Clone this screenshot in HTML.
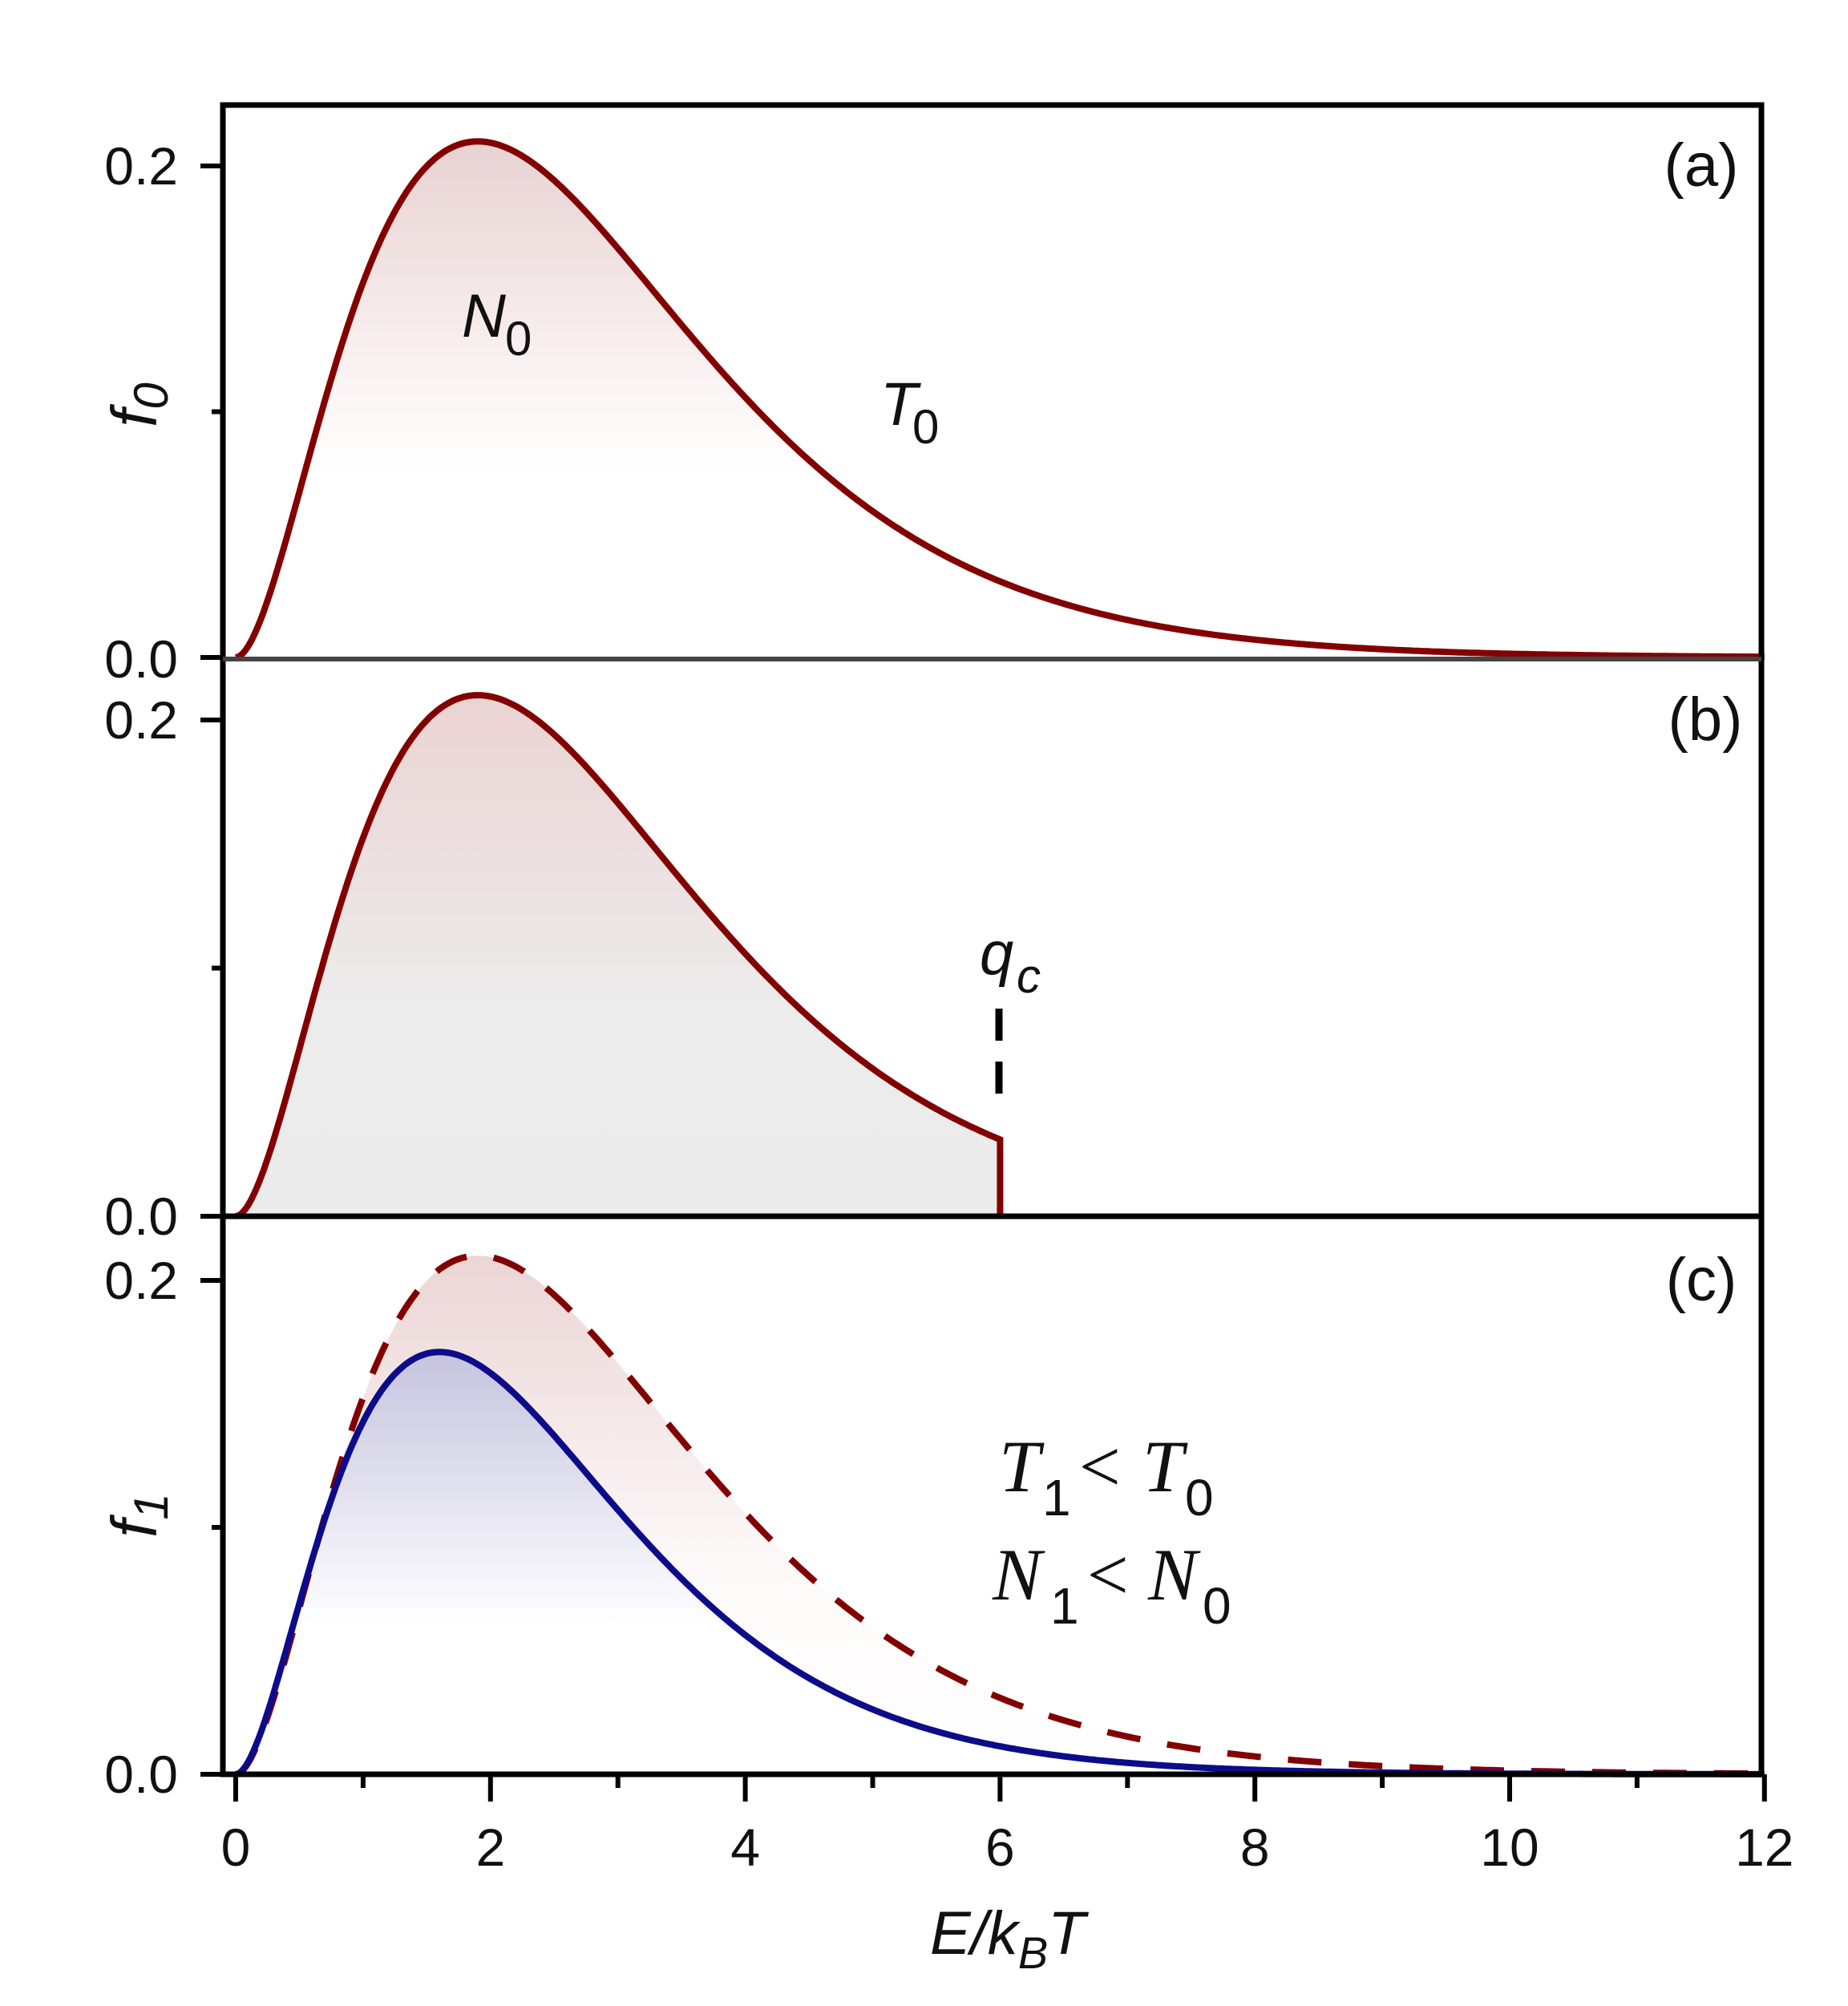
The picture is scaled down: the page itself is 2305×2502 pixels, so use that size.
<!DOCTYPE html>
<html><head><meta charset="utf-8"><style>
html,body{margin:0;padding:0;background:#fff;}
svg{display:block;}
text{font-family:"Liberation Sans",sans-serif;fill:#111;}
.tk{font-size:66px;}
.it{font-style:italic;}
.sr{font-family:"Liberation Serif",serif;font-style:italic;font-size:92px;}
</style></head><body>
<svg id="s" width="2305" height="2502" viewBox="0 0 2305 2502" xmlns="http://www.w3.org/2000/svg">
<defs>
<linearGradient id="ga" x1="0" y1="0" x2="0" y2="1">
<stop offset="0" stop-color="#e8d2d2"/><stop offset="0.5" stop-color="#fcf6f6"/><stop offset="0.65" stop-color="#ffffff"/><stop offset="1" stop-color="#ffffff"/></linearGradient>
<linearGradient id="gb" x1="0" y1="0" x2="0" y2="1">
<stop offset="0" stop-color="#ebd3d3"/><stop offset="0.6" stop-color="#ececec"/><stop offset="1" stop-color="#ebebeb"/></linearGradient>
<linearGradient id="gc" x1="0" y1="0" x2="0" y2="1">
<stop offset="0" stop-color="#ebd5d5"/><stop offset="0.6" stop-color="#fdf9f9"/><stop offset="1" stop-color="#ffffff"/></linearGradient>
<linearGradient id="gd" x1="0" y1="0" x2="0" y2="1">
<stop offset="0" stop-color="#c6c4de"/><stop offset="0.5" stop-color="#f2f1f8"/><stop offset="0.65" stop-color="#ffffff"/><stop offset="1" stop-color="#ffffff"/></linearGradient>
</defs>
<g id="fills"></g>
<g id="lines"></g>
<rect x="278" y="131" width="1919" height="2082" fill="none" stroke="#000" stroke-width="7"/>
<line x1="278" y1="1517" x2="2197" y2="1517" stroke="#000" stroke-width="7"/>
<line x1="278" y1="822" x2="2197" y2="822" stroke="#444" stroke-width="6"/>
<g id="ticks" stroke="#000" stroke-width="6"></g>
<text class="tk" x="222" y="230" text-anchor="end">0.2</text>
<text class="tk" x="222" y="845" text-anchor="end">0.0</text>
<text class="tk" x="222" y="921" text-anchor="end">0.2</text>
<text class="tk" x="222" y="1540" text-anchor="end">0.0</text>
<text class="tk" x="222" y="1620" text-anchor="end">0.2</text>
<text class="tk" x="222" y="2236" text-anchor="end">0.0</text>
<g id="xl"></g>
<text x="2122" y="232" font-size="76" text-anchor="middle">(a)</text>
<text x="2127" y="923" font-size="76" text-anchor="middle">(b)</text>
<text x="2122" y="1622" font-size="76" text-anchor="middle">(c)</text>
<text class="it" x="576" y="420" font-size="76">N</text><text x="630" y="443" font-size="60">0</text>
<text class="it" x="1098" y="530" font-size="76">T</text><text x="1138" y="553" font-size="60">0</text>
<text class="it" x="1222" y="1215" font-size="76">q</text><text x="1268" y="1238" font-size="60" class="it">c</text>
<line x1="1246" y1="1258" x2="1246" y2="1390" stroke="#000" stroke-width="9" stroke-dasharray="40,26"/>
<text class="sr" x="1246" y="1860">T</text><text x="1300" y="1890" font-size="64" font-family="Liberation Serif">1</text>
<text class="sr" x="1340" y="1860" font-style="normal">&lt;</text>
<text class="sr" x="1425" y="1860">T</text><text x="1478" y="1890" font-size="64" font-family="Liberation Serif">0</text>
<text class="sr" x="1238" y="1995">N</text><text x="1310" y="2025" font-size="64" font-family="Liberation Serif">1</text>
<text class="sr" x="1350" y="1995" font-style="normal">&lt;</text>
<text class="sr" x="1432" y="1995">N</text><text x="1500" y="2025" font-size="64" font-family="Liberation Serif">0</text>
<text class="it" x="195" y="505" font-size="80" transform="rotate(-90 195 505)" text-anchor="middle">f<tspan font-size="60" dy="14">0</tspan></text>
<text class="it" x="195" y="1890" font-size="80" transform="rotate(-90 195 1890)" text-anchor="middle">f<tspan font-size="60" dy="14">1</tspan></text>
<text class="it" x="1160" y="2437" font-size="76">E/k<tspan font-size="56" dy="18">B</tspan><tspan dy="-18">T</tspan></text>
</svg>
<script>
(function(){
var X=function(E){return 294+158.9*E;};
function f(E,k,th,pk,pe){if(E<=0)return 0;return pk*Math.pow(E/pe,k)*Math.exp(-(E-pe)/th);}
function F0(E){return f(E,1.9,1.0,0.21,1.9);}
function F1(E){return f(E,1.9,0.842,0.171,1.6);}
function pts(fn,y0,sc,a,b){var s=[];for(var E=a;E<=b+1e-9;E+=0.02){s.push(X(E).toFixed(1)+","+(y0-fn(E)*sc).toFixed(1));}return s;}
var NS="http://www.w3.org/2000/svg";
function el(p,t,at){var e=document.createElementNS(NS,t);for(var k in at)e.setAttribute(k,at[k]);document.getElementById(p).appendChild(e);return e;}
var ya=820,sa=3065;
var pa=pts(F0,ya,sa,0,12);
el("fills","path",{d:"M"+X(0)+","+ya+" L"+pa.join(" L")+" L"+X(12)+","+ya+"Z",fill:"url(#ga)"});
el("lines","path",{d:"M"+pa.join(" L"),fill:"none",stroke:"#820000","stroke-width":8});
var yb=1517,sb=3095;
var pb=pts(F0,yb,sb,0,6);
el("fills","path",{d:"M"+X(0)+","+yb+" L"+pb.join(" L")+" L"+X(6)+","+yb+"Z",fill:"url(#gb)"});
el("lines","path",{d:"M"+pb.join(" L")+" L"+X(6)+","+yb,fill:"none",stroke:"#820000","stroke-width":8});
var yc=2213,sc=3080;
var pc0=pts(F0,yc,sc,0,12),pc1=pts(F1,yc,sc,0,12);
el("fills","path",{d:"M"+pc0.join(" L")+" L"+pc1.slice().reverse().join(" L")+"Z",fill:"url(#gc)"});
el("fills","path",{d:"M"+X(0)+","+yc+" L"+pc1.join(" L")+" L"+X(12)+","+yc+"Z",fill:"url(#gd)"});
el("lines","line",{x1:278,y1:yc-1,x2:2197,y2:yc-1,stroke:"#666","stroke-width":4});
el("lines","path",{d:"M"+pc0.join(" L"),fill:"none",stroke:"#820000","stroke-width":8,"stroke-dasharray":"42,34"});
el("lines","path",{d:"M"+pc1.join(" L"),fill:"none",stroke:"#0c0c8a","stroke-width":8});
[[207,820],[898,1517],[1597,2213]].forEach(function(p){
el("ticks","line",{x1:250,y1:p[0],x2:278,y2:p[0]});
el("ticks","line",{x1:250,y1:p[1],x2:278,y2:p[1]});
el("ticks","line",{x1:264,y1:(p[0]+p[1])/2,x2:278,y2:(p[0]+p[1])/2});
});
for(var i=0;i<=12;i++){var x=X(i);el("ticks","line",{x1:x,y1:2213,x2:x,y2:i%2?2230:2247});
if(i%2==0){var t=el("xl","text",{x:x,y:2327,"text-anchor":"middle","class":"tk"});t.textContent=String(i);}}
})();
</script>
</body></html>
